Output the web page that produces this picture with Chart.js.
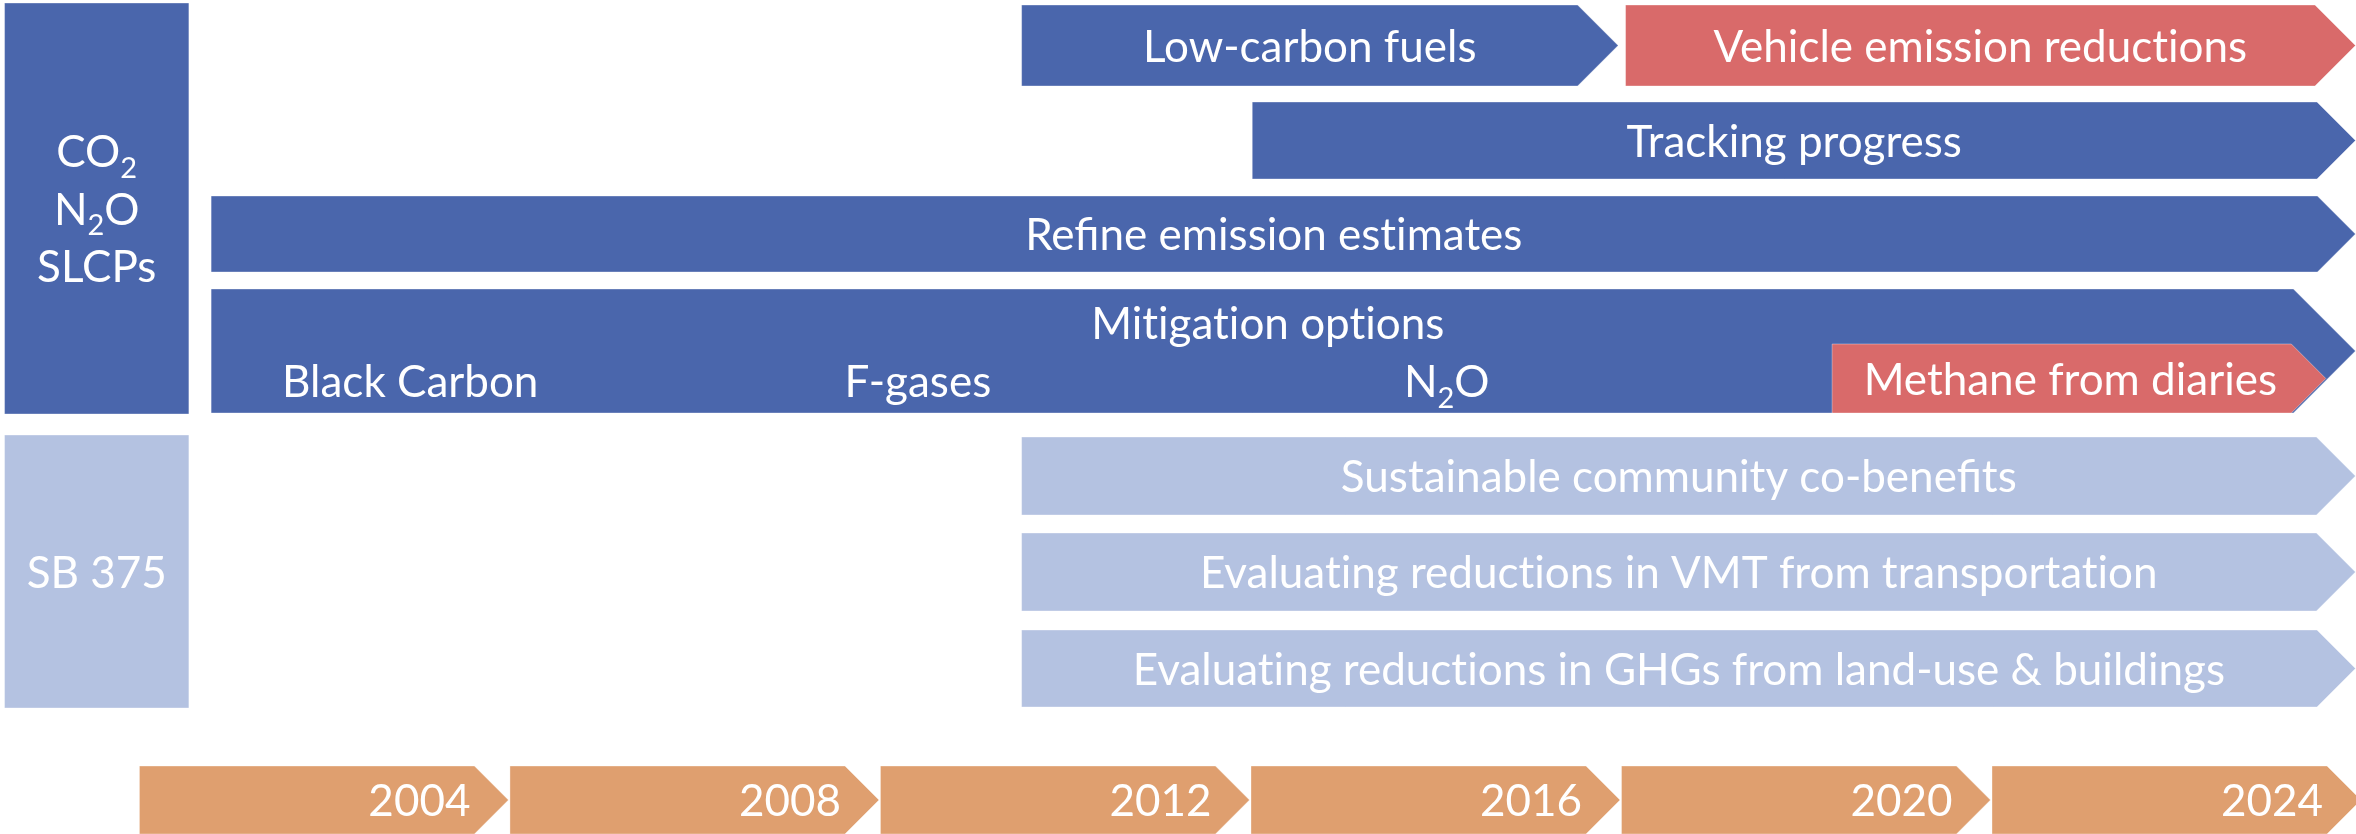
<!DOCTYPE html>
<html>
<head>
<meta charset="utf-8">
<script src="https://cdn.jsdelivr.net/npm/chart.js@4.4.1/dist/chart.umd.min.js"></script>
<style>
  html, body { margin:0; padding:0; background:#ffffff; overflow:hidden; }
  #frame { position:relative; width:2356px; height:834px; overflow:hidden; }
  #holder { position:absolute; left:-1px; top:0; width:2362px; height:834px; }
</style>
</head>
<body>
<div id="frame"><div id="holder"><canvas id="c"></canvas></div></div>
<script>
// ---------------- DATA ----------------
// Group (left column) labels; "_2" marks a subscript 2
const groupLabels = [['CO_2', 'N_2O', 'SLCPs'], ['SB 375']];
const groupRows   = [[0, 3], [4, 6]];          // first / last row of each group
const groupKind   = ['core', 'sb375'];

// Tasks (arrows) in years
const taskNames  = ['Low-carbon fuels', 'Vehicle emission reductions', 'Tracking progress',
                    'Refine emission estimates', 'Mitigation options', 'Methane from diaries',
                    'Sustainable community co-benefits',
                    'Evaluating reductions in VMT from transportation',
                    'Evaluating reductions in GHGs from land-use & buildings'];
const taskRows   = [0, 0, 1, 2, 3, 3, 4, 5, 6];
const taskStart  = [2009.54, 2016.06, 2012.03, 2000.79, 2000.79, 2018.29, 2009.54, 2009.54, 2009.54];
const taskEnd    = [2015.98, 2023.94, 2023.94, 2023.94, 2023.94, 2023.62, 2023.94, 2023.94, 2023.94];
const taskKind   = ['core', 'highlight', 'core', 'core', 'core', 'highlight', 'sb375', 'sb375', 'sb375'];

// Gases listed inside "Mitigation options", placed along the years
const gasLabels  = ['Black Carbon', 'F-gases', 'N_2O'];
const gasYears   = [2002.94, 2008.42, 2014.13];

// Timeline segments (4-year blocks, label = end year)
const timelineYears = [2004, 2008, 2012, 2016, 2020, 2024];
const timelineSpan  = 4;

// ---------------- LAYOUT / STYLE ----------------
const X_MIN = 1998.5, X_MAX = 2024;
const Y_MIN = 0, Y_MAX = 834;
const LANES = [[5, 86], [102, 179], [196, 272], [289, 413], [437, 515], [533, 611], [630, 707]];
const TIMELINE_LANE = [766, 834];
const TASK_BAND = [null, null, null, null, null, [344, 413], null, null, null];
const TASK_TEXT_Y = [null, null, null, null, 323, null, null, null, null];
const GAS_TEXT_Y = 381;
const GROUP_BOX = [1998.56, 2000.55];
const GROUP_LINE_H = 57.5;
const COLORS = { core:'#4A66AC', highlight:'#D96A6A', sb375:'#B4C2E1', timeline:'#DF9F6F' };
const FONT_FAMILY = 'Lato, "Open Sans", sans-serif';
const FONT_SIZE = 44;

// --------------- helpers ---------------
function parseRich(s) {
  const parts = [];
  const re = /_(\d)/g;
  let last = 0, m;
  while ((m = re.exec(s)) !== null) {
    if (m.index > last) parts.push({ t: s.slice(last, m.index), sub: false });
    parts.push({ t: m[1], sub: true });
    last = re.lastIndex;
  }
  if (last < s.length) parts.push({ t: s.slice(last), sub: false });
  // avoid the "ti" ligature of the substitute font
  parts.forEach(p => { p.t = p.t.replace(/t(?=i)/g, 't\u200C'); });
  return parts;
}
function drawRich(ctx, s, x, capCenterY, align) {
  const parts = parseRich(s);
  const main = FONT_SIZE + 'px ' + FONT_FAMILY;
  const small = Math.round(FONT_SIZE * 0.66) + 'px ' + FONT_FAMILY;
  ctx.font = main;
  const capH = ctx.measureText('H').actualBoundingBoxAscent;
  let w = 0;
  parts.forEach(p => { ctx.font = p.sub ? small : main; p.w = ctx.measureText(p.t).width; w += p.w; });
  let cx = align === 'right' ? x - w : (align === 'left' ? x : x - w / 2);
  const base = capCenterY + capH / 2;
  ctx.textAlign = 'left';
  ctx.textBaseline = 'alphabetic';
  ctx.fillStyle = '#ffffff';
  parts.forEach(p => {
    ctx.font = p.sub ? small : main;
    ctx.fillText(p.t, cx, p.sub ? base + FONT_SIZE * 0.24 : base);
    cx += p.w;
  });
}
function chevron(ctx, x0, x1, y0, y1, color, pointed) {
  const d = pointed ? (y1 - y0) / 2 : 0;
  ctx.beginPath();
  ctx.moveTo(x0, y0);
  ctx.lineTo(x1 - d, y0);
  if (pointed) ctx.lineTo(x1, (y0 + y1) / 2);
  ctx.lineTo(x1 - d, y1);
  ctx.lineTo(x0, y1);
  ctx.closePath();
  ctx.fillStyle = color;
  ctx.fill();
  ctx.lineWidth = 1;
  ctx.strokeStyle = 'rgba(255,255,255,0.35)';
  ctx.stroke();
  return d;
}

const ganttPlugin = {
  id: 'gantt',
  afterDatasetsDraw(chart) {
    const ctx = chart.ctx, xs = chart.scales.x, ys = chart.scales.y;
    const X = v => xs.getPixelForValue(v), Y = v => ys.getPixelForValue(v);
    ctx.save();

    // left group boxes
    groupLabels.forEach((lines, g) => {
      const x0 = X(GROUP_BOX[0]), x1 = X(GROUP_BOX[1]);
      const y0 = Y(LANES[groupRows[g][0]][0]) - 2, y1 = Y(LANES[groupRows[g][1]][1]) + 1;
      chevron(ctx, x0, x1, y0, y1, COLORS[groupKind[g]], false);
      const cy = (y0 + y1) / 2, cx = (x0 + x1) / 2;
      lines.forEach((ln, i) => drawRich(ctx, ln, cx, cy + (i - (lines.length - 1) / 2) * GROUP_LINE_H, 'center'));
    });

    // task arrows
    taskNames.forEach((name, i) => {
      const band = TASK_BAND[i] || LANES[taskRows[i]];
      const y0 = Y(band[0]), y1 = Y(band[1]);
      const x0 = X(taskStart[i]), x1 = X(taskEnd[i]);
      const d = chevron(ctx, x0, x1, y0, y1, COLORS[taskKind[i]], true);
      const ty = TASK_TEXT_Y[i] != null ? Y(TASK_TEXT_Y[i]) : (y0 + y1) / 2;
      drawRich(ctx, name, (x0 + x1 - d / 2) / 2, ty, 'center');
      if (i === 4) {
        gasLabels.forEach((g, k) => drawRich(ctx, g, X(gasYears[k]), Y(GAS_TEXT_Y), 'center'));
      }
    });

    // timeline
    timelineYears.forEach((yr) => {
      const x0 = X(yr - timelineSpan) + 1.5, x1 = X(yr);
      const y0 = Y(TIMELINE_LANE[0]), y1 = Y(TIMELINE_LANE[1]);
      const d = chevron(ctx, x0, x1, y0, y1, COLORS.timeline, true);
      drawRich(ctx, String(yr), x1 - d - 4, (y0 + y1) / 2, 'right');
    });
    ctx.restore();
  }
};

// datasets carry the same values (floating bars), drawn by the plugin above
const laneCenter = r => (LANES[r][0] + LANES[r][1]) / 2;
const datasets = [
  {
    label: 'Tasks',
    data: taskNames.map((n, i) => ({ x: [taskStart[i], taskEnd[i]], y: laneCenter(taskRows[i]) })),
    backgroundColor: 'rgba(0,0,0,0)', borderWidth: 0
  },
  {
    label: 'Timeline',
    data: timelineYears.map(yr => ({ x: [yr - timelineSpan, yr], y: (TIMELINE_LANE[0] + TIMELINE_LANE[1]) / 2 })),
    backgroundColor: 'rgba(0,0,0,0)', borderWidth: 0
  }
];

new Chart(document.getElementById('c'), {
  type: 'bar',
  data: { datasets },
  options: {
    indexAxis: 'y',
    responsive: true,
    maintainAspectRatio: false,
    devicePixelRatio: 1,
    animation: false,
    layout: { padding: 0 },
    plugins: { legend: { display: false }, tooltip: { enabled: false }, title: { display: false } },
    scales: {
      x: { type: 'linear', min: X_MIN, max: X_MAX, offset: false, display: false, grid: { display: false } },
      y: { type: 'linear', min: Y_MIN, max: Y_MAX, offset: false, reverse: true, display: false, grid: { display: false } }
    }
  },
  plugins: [ganttPlugin]
});
</script>
</body>
</html>
